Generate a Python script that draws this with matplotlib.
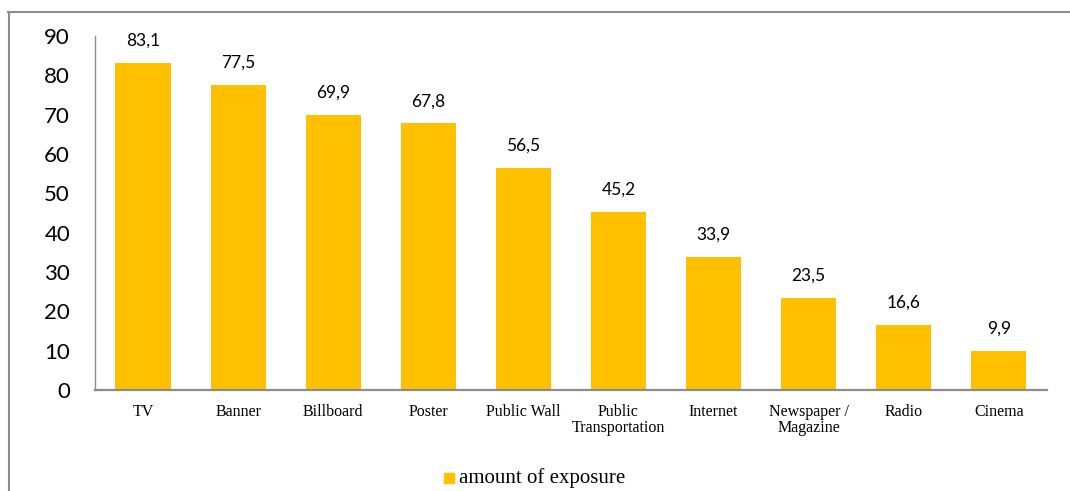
import matplotlib.pyplot as plt
from matplotlib.lines import Line2D
from matplotlib.patches import Rectangle

media = ['TV', 'Banner', 'Billboard', 'Poster', 'Public Wall', 'Public\nTransportation',
         'Internet', 'Newspaper /\nMagazine', 'Radio', 'Cinema']
exposure = [83.1, 77.5, 69.9, 67.8, 56.5, 45.2, 33.9, 23.5, 16.6, 9.9]
yticks = [0, 10, 20, 30, 40, 50, 60, 70, 80, 90]

bar_color = '#FFC000'
grey = '#8C8C8C'

fig = plt.figure(figsize=(10.7, 4.91), dpi=100, facecolor='white')
ax = fig.add_axes([0.0888, 0.2057, 0.890, 0.721])

x = list(range(len(media)))
ax.bar(x, exposure, width=0.58, color=bar_color, zorder=2)

for xi, v in zip(x, exposure):
    ax.text(xi, v + 3.6, f'{v:.1f}'.replace('.', ','), ha='center', va='bottom',
            fontsize=12.5, family='Lato')

ax.set_xlim(-0.505, 9.51)
ax.set_ylim(0, 90)
ax.set_yticks(yticks)
ax.set_yticklabels([str(t) for t in yticks], fontsize=16, family='Lato')
ax.set_xticks(x)
ax.set_xticklabels(media, fontsize=11.5, family='Liberation Serif', linespacing=1.05)
ax.tick_params(axis='both', length=0)
ax.tick_params(axis='y', pad=18)
ax.tick_params(axis='x', pad=10)

for s in ['top', 'right']:
    ax.spines[s].set_visible(False)
for s in ['left', 'bottom']:
    ax.spines[s].set_color(grey)
ax.spines['left'].set_linewidth(1.0)
ax.spines['bottom'].set_linewidth(1.6)

# outer frame (clipped at the right/bottom)
fig.add_artist(Line2D([8.5 / 1070, 8.5 / 1070], [0, 1 - 12 / 491], color=grey, lw=1.5))
fig.add_artist(Line2D([8 / 1070, 1], [1 - 12 / 491, 1 - 12 / 491], color=grey, lw=1.5))

# legend
fig.add_artist(Rectangle((444 / 1070, 1 - 483 / 491), 10 / 1070, 10 / 491,
                         color=bar_color, transform=fig.transFigure))
fig.text(459 / 1070, 1 - 478 / 491, 'amount of exposure', fontsize=15,
         family='Liberation Serif', va='center', ha='left')

fig.savefig('out.png', dpi=100, facecolor='white')
